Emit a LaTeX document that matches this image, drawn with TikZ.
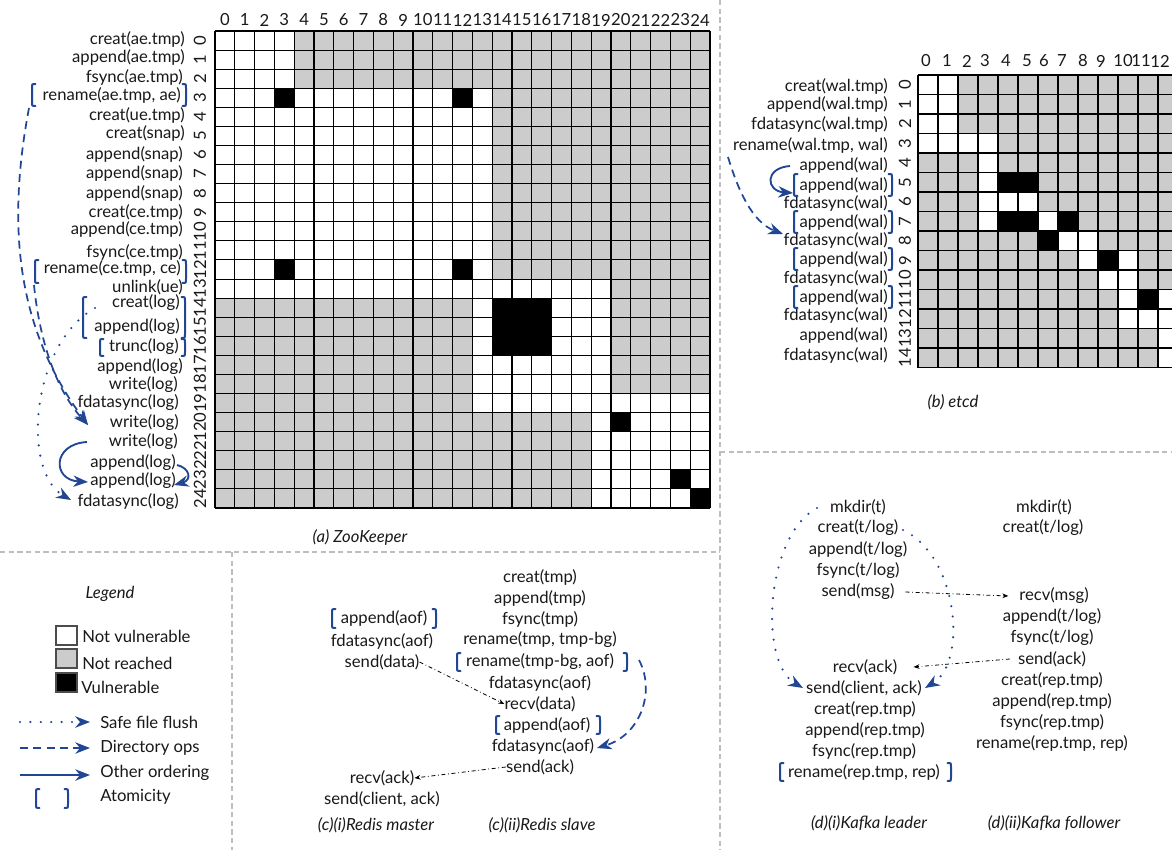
\documentclass[tikz,border=0pt]{standalone}
\usepackage{fontspec}
\setmainfont{Lato}
\usetikzlibrary{arrows.meta}
\definecolor{myblue}{RGB}{32,70,148}
\definecolor{cellgray}{RGB}{204,204,204}
\definecolor{sepgray}{RGB}{190,190,190}
\tikzset{
  lbl/.style={inner sep=0pt, font=\fontsize{12.5}{14}\selectfont, text=black!90},
  lble/.style={lbl, anchor=east},
  lblw/.style={lbl, anchor=west},
  rnum/.style={lbl, rotate=90},
  capt/.style={inner sep=0pt, font=\fontsize{12.5}{14}\selectfont\itshape, text=black!90},
  brk/.style={myblue, line width=1.5pt, line cap=round},
  bhead/.style={-{Stealth[length=11pt,width=8.5pt,inset=3.5pt]}},
  flusharrow/.style={myblue, line width=1.8pt, dash pattern=on 0pt off 7.8pt, line cap=round, bhead},
  dirarrow/.style={myblue, line width=1.3pt, dash pattern=on 6pt off 4pt, bhead},
  ordarrow/.style={myblue, line width=1.4pt, bhead},
  msgarrow/.style={black, line width=0.6pt, dash pattern=on 3pt off 2pt on 0.6pt off 2pt, -{Stealth[length=4.5pt,width=3.5pt]}},
  sep/.style={sepgray, line width=0.8pt, dash pattern=on 4pt off 2.5pt},
  gridl/.style={black, line width=0.8pt},
  wcell/.style={fill=white},
  gcell/.style={fill=cellgray},
  bcell/.style={fill=black},
  lgbox/.style={draw=black!70, line width=0.9pt},
}
\newcommand{\brL}[3]{\draw[brk] ({#1+3.5},#2) .. controls (#1,#2) .. (#1,{#2+4}) -- (#1,{#3-4}) .. controls (#1,#3) .. ({#1+3.5},#3);}
\newcommand{\brR}[3]{\draw[brk] ({#1-3.5},#2) .. controls (#1,#2) .. (#1,{#2+4}) -- (#1,{#3-4}) .. controls (#1,#3) .. ({#1-3.5},#3);}
\begin{document}
\begin{tikzpicture}[x=0.75pt,y=-0.75pt]
\useasboundingbox (0,0) rectangle (1172,850);
\clip (0,0) rectangle (1172,850);
\fill[white] (0,0) rectangle (1172,850);

% ---------------- separators
\draw[sep] (720,0) -- (720,850);
\draw[sep] (0,552) -- (720,552);
\draw[sep] (720,452) -- (1172,452);
\draw[sep] (232,552) -- (232,850);

% ---------------- ZooKeeper grid
\begin{scope}[shift={(215,31)}, xscale=19.8, yscale=19.08]
  \fill[gcell] (0,0) rectangle (25,25);
  \fill[wcell] (0,0) rectangle (4,3);
  \fill[wcell] (0,3) rectangle (14,13);
  \fill[wcell] (0,13) rectangle (20,14);
  \fill[wcell] (13,14) rectangle (20,19);
  \fill[wcell] (13,19) rectangle (25,20);
  \fill[wcell] (19,20) rectangle (25,25);
  \fill[bcell] (3,3) rectangle (4,4);
  \fill[bcell] (12,3) rectangle (13,4);
  \fill[bcell] (3,12) rectangle (4,13);
  \fill[bcell] (12,12) rectangle (13,13);
  \fill[bcell] (14,14) rectangle (17,17);
  \fill[bcell] (20,20) rectangle (21,21);
  \fill[bcell] (23,23) rectangle (24,24);
  \fill[bcell] (24,24) rectangle (25,25);
  \foreach \i in {0,...,25} {
    \draw[gridl] (\i,0) -- (\i,25);
    \draw[gridl] (0,\i) -- (25,\i);
  }
\end{scope}
\foreach \c in {0,...,24} {
  \node[lbl] (zc\c) at ({215+19.8*(\c+0.5)},20) {\c};
  \node[rnum] (zr\c) at (200,{31+19.08*(\c+0.5)}) {\c};
}

% ZooKeeper labels
\node[lble] (zk0) at (185,39) {creat(ae.tmp)};
\node[lble] (zk1) at (185,57) {append(ae.tmp)};
\node[lble] (zk2) at (183,77) {fsync(ae.tmp)};
\node[lble] (zk3) at (181,95) {rename(ae.tmp, ae)};
\node[lble] (zk4) at (185,115) {creat(ue.tmp)};
\node[lble] (zk5) at (185,133) {creat(snap)};
\node[lble] (zk6) at (183,154) {append(snap)};
\node[lble] (zk7) at (183,173) {append(snap)};
\node[lble] (zk8) at (183,193) {append(snap)};
\node[lble] (zk9) at (183,212) {creat(ce.tmp)};
\node[lble] (zk10) at (183,229) {append(ce.tmp)};
\node[lble] (zk11) at (183,252) {fsync(ce.tmp)};
\node[lble] (zk12) at (181,268) {rename(ce.tmp, ce)};
\node[lble] (zk13) at (183,287) {unlink(ue)};
\node[lble] (zk14) at (180,303) {creat(log)};
\node[lble] (zk15) at (180,327) {append(log)};
\node[lble] (zk16) at (179,347) {trunc(log)};
\node[lble] (zk17) at (183,367) {append(log)};
\node[lble] (zk18) at (178,385) {write(log)};
\node[lble] (zk19) at (179,403) {fdatasync(log)};
\node[lble] (zk20) at (179,423) {write(log)};
\node[lble] (zk21) at (178,442) {write(log)};
\node[lble] (zk22) at (176,463) {append(log)};
\node[lble] (zk23) at (176,481) {append(log)};
\node[lble] (zk24) at (179,502) {fdatasync(log)};

% ZooKeeper brackets
\brL{32}{84}{106}\brR{186}{84}{106}
\brL{35}{260}{283}\brR{186}{260}{283}
\brL{83}{297}{338}\brR{185}{297}{338}
\brL{100}{339}{356}\brR{185}{339}{356}

% ZooKeeper arrows
\coordinate (za1) at (29,108);
\coordinate (za2) at (34,285);
\coordinate (zaE) at (88,425);
\draw[dirarrow] (za1) .. controls (6,230) and (18,330) .. (zaE);
\draw[dirarrow] (za2) .. controls (40,345) and (58,392) .. (zaE);
\coordinate (zf1) at (95,308);
\coordinate (zf2) at (71,500);
\draw[flusharrow] (zf1) .. controls (30,345) and (22,472) .. (zf2);
\coordinate (zo1) at (87,442);
\coordinate (zo2) at (88,482);
\draw[ordarrow] (zo1) .. controls (52,444) and (52,480) .. (zo2);
\coordinate (zo3) at (177,465);
\coordinate (zo4) at (174,485);
\draw[ordarrow] (zo3) .. controls (190,468) and (192,480) .. (zo4);

\node[capt] (zcap) at (360,537) {(a) ZooKeeper};

% ---------------- etcd grid
\begin{scope}[shift={(918,75)}, xscale=20, yscale=19.5]
  \fill[gcell] (0,0) rectangle (13,15);
  \fill[wcell] (0,0) rectangle (2,3);
  \fill[wcell] (0,3) rectangle (4,4);
  \fill[wcell] (3,4) rectangle (4,8);
  \fill[wcell] (4,6) rectangle (6,7);
  \foreach \c/\r in {6/7,7/8,8/8,8/9,10/9,9/10,10/10,10/11,12/11,10/12,11/12,12/12,12/13,12/14}
    \fill[wcell] (\c,\r) rectangle ++(1,1);
  \fill[bcell] (4,5) rectangle (6,6);
  \fill[bcell] (4,7) rectangle (6,8);
  \foreach \c/\r in {7/7,6/8,9/9,11/11}
    \fill[bcell] (\c,\r) rectangle ++(1,1);
  \foreach \i in {0,...,13} \draw[gridl] (\i,0) -- (\i,15);
  \foreach \i in {0,...,15} \draw[gridl] (0,\i) -- (13,\i);
\end{scope}
\foreach \c/\xx in {0/926,1/947,2/967,3/985,4/1006,5/1027,6/1044,7/1062,8/1083,9/1101,10/1123,11/1141,12/1160} {
  \node[lbl] (ec\c) at (\xx,61) {\c};
}
\foreach \c in {0,...,14} {
  \node[rnum] (er\c) at (905,{75+19.5*(\c+0.5)}) {\c};
}
\node[lble] (et0) at (888,86) {creat(wal.tmp)};
\node[lble] (et1) at (888,104) {append(wal.tmp)};
\node[lble] (et2) at (888,124) {fdatasync(wal.tmp)};
\node[lble] (et3) at (888,145) {rename(wal.tmp, wal)};
\node[lble] (et4) at (888,165) {append(wal)};
\node[lble] (et5) at (888,185) {append(wal)};
\node[lble] (et6) at (888,203) {fdatasync(wal)};
\node[lble] (et7) at (888,222) {append(wal)};
\node[lble] (et8) at (888,240) {fdatasync(wal)};
\node[lble] (et9) at (888,259) {append(wal)};
\node[lble] (et10) at (888,278) {fdatasync(wal)};
\node[lble] (et11) at (888,297) {append(wal)};
\node[lble] (et12) at (888,315) {fdatasync(wal)};
\node[lble] (et13) at (888,335) {append(wal)};
\node[lble] (et14) at (888,355) {fdatasync(wal)};
\foreach \yy in {185,222,259,297} {
  \brL{794}{\yy-11}{\yy+11}\brR{892}{\yy-11}{\yy+11}
}
\coordinate (eo1) at (790,166);
\coordinate (eo2) at (793,193);
\draw[ordarrow] (eo1) .. controls (764,168) and (766,191) .. (eo2);
\coordinate (ed1) at (728,157);
\coordinate (ed2) at (783,234);
\draw[dirarrow] (ed1) .. controls (738,190) and (752,222) .. (ed2);
\node[capt] (ecap) at (953,402) {(b) etcd};

% ---------------- Legend
\node[capt] (lgt) at (110,594) {Legend};
\draw[lgbox, fill=white] (56,626) rectangle (77,645);
\draw[lgbox, fill=cellgray] (56,649) rectangle (77,668);
\draw[lgbox, fill=black] (56,673) rectangle (77,692);
\node[lblw] (lg1) at (82,636) {Not vulnerable};
\node[lblw] (lg2) at (82,663) {Not reached};
\node[lblw] (lg3) at (81,687) {Vulnerable};
\coordinate (la1) at (20,722); \coordinate (lb1) at (90,722);
\coordinate (la2) at (20,748); \coordinate (lb2) at (90,748);
\coordinate (la3) at (20,775); \coordinate (lb3) at (90,775);
\draw[flusharrow] (la1) -- (lb1);
\draw[dirarrow] (la2) -- (lb2);
\draw[ordarrow] (la3) -- (lb3);
\brL{36}{789}{808}\brR{68}{789}{808}
\node[lblw] (lg4) at (100,722) {Safe file flush};
\node[lblw] (lg5) at (100,748) {Directory ops};
\node[lblw] (lg6) at (100,773) {Other ordering};
\node[lblw] (lg7) at (100,797) {Atomicity};

% ---------------- Redis master
\node[lbl] (rm0) at (384,618) {append(aof)};
\node[lbl] (rm1) at (382,641) {fdatasync(aof)};
\node[lbl] (rm2) at (382,662) {send(data)};
\node[lbl] (rm3) at (382,778) {recv(ack)};
\node[lbl] (rm4) at (382,799) {send(client, ack)};
\brL{332}{609}{628}\brR{436}{609}{628}
\node[capt] (rmcap) at (376,825) {(c)(i)Redis master};

% ---------------- Redis slave
\node[lbl] (rs0) at (540,577) {creat(tmp)};
\node[lbl] (rs1) at (540,598) {append(tmp)};
\node[lbl] (rs2) at (540,619) {fsync(tmp)};
\node[lbl] (rs3) at (540,640) {rename(tmp, tmp-bg)};
\node[lbl] (rs4) at (540,662) {rename(tmp-bg, aof)};
\node[lbl] (rs5) at (540,683) {fdatasync(aof)};
\node[lbl] (rs6) at (540,704) {recv(data)};
\node[lbl] (rs7) at (547,725) {append(aof)};
\node[lbl] (rs8) at (543,746) {fdatasync(aof)};
\node[lbl] (rs9) at (540,767) {send(ack)};
\brL{457}{653}{671}\brR{627}{653}{671}
\brL{496}{716}{734}\brR{600}{716}{734}
\node[capt] (rscap) at (542,825) {(c)(ii)Redis slave};
\draw[msgarrow] (rm2.east) -- (rs6.west);
\draw[msgarrow] (rs9.west) -- (rm3.east);
\coordinate (rd1) at (639,660);
\coordinate (rd2) at (597,748);
\draw[dirarrow] (rd1) .. controls (656,692) and (640,735) .. (rd2);

% ---------------- Kafka leader
\node[lbl] (kl0) at (858,507) {mkdir(t)};
\node[lbl] (kl1) at (858,528) {creat(t/log)};
\node[lbl] (kl2) at (858,550) {append(t/log)};
\node[lbl] (kl3) at (858,571) {fsync(t/log)};
\node[lbl] (kl4) at (858,592) {send(msg)};
\node[lbl] (kl5) at (865,667) {recv(ack)};
\node[lbl] (kl6) at (864,688) {send(client, ack)};
\node[lbl] (kl7) at (865,709) {creat(rep.tmp)};
\node[lbl] (kl8) at (865,730) {append(rep.tmp)};
\node[lbl] (kl9) at (864,751) {fsync(rep.tmp)};
\node[lbl] (kl10) at (864,772) {rename(rep.tmp, rep)};
\brL{780}{763}{781}\brR{951}{763}{781}
\node[capt] (klcap) at (869,823) {(d)(i)Kafka leader};

% ---------------- Kafka follower
\node[lbl] (kf0) at (1044,507) {mkdir(t)};
\node[lbl] (kf1) at (1043,528) {creat(t/log)};
\node[lbl] (kf2) at (1054,596) {recv(msg)};
\node[lbl] (kf3) at (1052,617) {append(t/log)};
\node[lbl] (kf4) at (1052,638) {fsync(t/log)};
\node[lbl] (kf5) at (1052,659) {send(ack)};
\node[lbl] (kf6) at (1052,680) {creat(rep.tmp)};
\node[lbl] (kf7) at (1052,701) {append(rep.tmp)};
\node[lbl] (kf8) at (1052,722) {fsync(rep.tmp)};
\node[lbl] (kf9) at (1052,743) {rename(rep.tmp, rep)};
\node[capt] (kfcap) at (1054,823) {(d)(ii)Kafka follower};

\draw[msgarrow] ([xshift=8pt]kl4.east) -- ([xshift=-8pt]kf2.west);
\draw[msgarrow] ([xshift=-6pt]kf5.west) -- ([xshift=12pt]kl5.east);
\coordinate (kd1) at (817,508);
\coordinate (kd2) at (803,688);
\draw[flusharrow] (kd1) .. controls (766,535) and (758,662) .. (kd2);
\coordinate (kd3) at (903,530);
\coordinate (kd4) at (925,688);
\draw[flusharrow] (kd3) .. controls (958,556) and (968,662) .. (kd4);
\end{tikzpicture}
\end{document}
